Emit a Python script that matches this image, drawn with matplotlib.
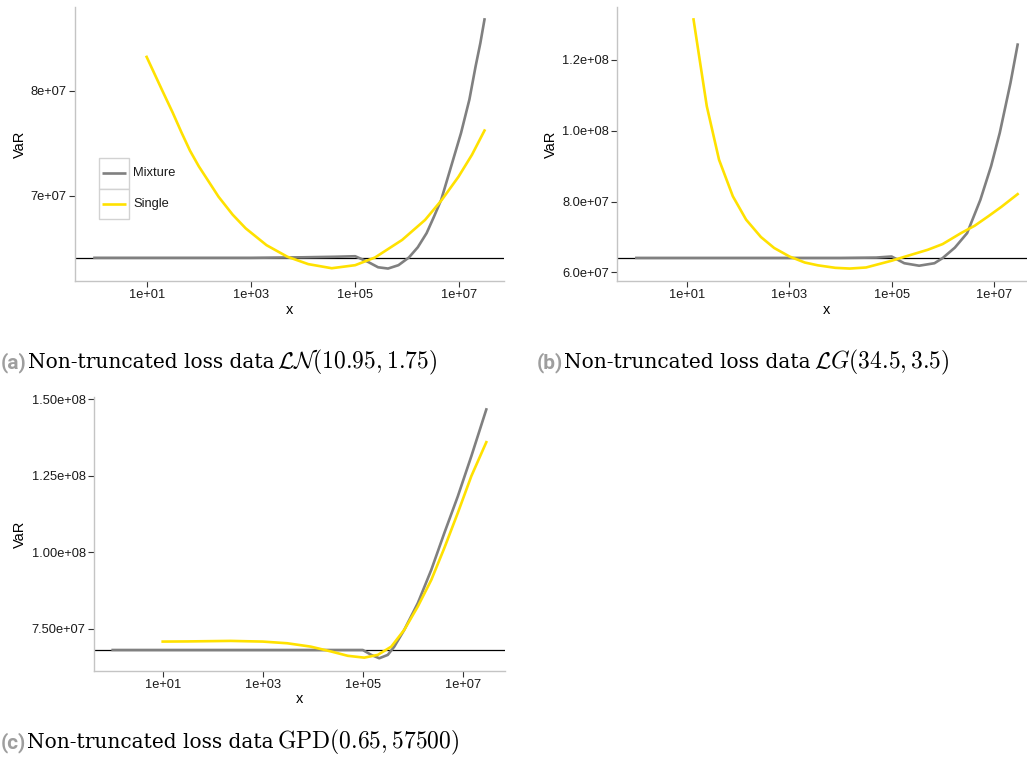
import numpy as np
import matplotlib
matplotlib.use("Agg")
import matplotlib.pyplot as plt
from matplotlib.patches import Rectangle

plt.rcParams['font.family'] = ['Liberation Sans', 'DejaVu Sans']
plt.rcParams['mathtext.fontset'] = 'cm'

# --- data (x given as log10 of x) ---
# (a) lognormal
A_MIX_LOG10X = [0, 1, 2, 3, 4, 4.6, 5.0, 5.25, 5.44, 5.63, 5.83, 6.03, 6.2, 6.37, 6.51,
                6.65, 6.84, 7.03, 7.19, 7.31, 7.40, 7.48]
A_MIX_VAR = [6.41e7, 6.41e7, 6.41e7, 6.41e7, 6.415e7, 6.42e7, 6.425e7, 6.37e7, 6.32e7,
             6.308e7, 6.34e7, 6.413e7, 6.51e7, 6.645e7, 6.80e7, 6.962e7, 7.279e7,
             7.597e7, 7.914e7, 8.232e7, 8.45e7, 8.676e7]
A_SIN_LOG10X = [1.0, 1.15, 1.3, 1.5, 1.67, 1.83, 2.0, 2.38, 2.65, 2.9, 3.3, 3.7, 4.1,
                4.55, 5.0, 5.38, 5.9, 6.34, 6.66, 6.98, 7.24, 7.48]
A_SIN_VAR = [8.32e7, 8.16e7, 8.00e7, 7.79e7, 7.60e7, 7.43e7, 7.28e7, 6.99e7, 6.82e7,
             6.69e7, 6.53e7, 6.42e7, 6.35e7, 6.311e7, 6.34e7, 6.413e7, 6.58e7, 6.77e7,
             6.96e7, 7.18e7, 7.39e7, 7.62e7]
A_HLINE = 6.41e7

# (b) loggamma
B_MIX_LOG10X = [0, 1, 2, 3, 4, 4.7, 5.0, 5.25, 5.54, 5.84, 6.0, 6.24, 6.48, 6.74, 6.95,
                7.12, 7.33, 7.47]
B_MIX_VAR = [6.41e7, 6.41e7, 6.41e7, 6.41e7, 6.41e7, 6.42e7, 6.45e7, 6.26e7, 6.19e7,
             6.26e7, 6.405e7, 6.70e7, 7.11e7, 8.05e7, 9.0e7, 9.94e7, 1.135e8, 1.243e8]
B_SIN_LOG10X = [1.12, 1.23, 1.38, 1.62, 1.89, 2.15, 2.44, 2.70, 3.0, 3.30, 3.56, 3.9,
                4.18, 4.5, 5.0, 5.18, 5.71, 6.0, 6.36, 6.63, 6.89, 7.15, 7.47]
B_SIN_VAR = [1.314e8, 1.210e8, 1.069e8, 9.18e7, 8.15e7, 7.49e7, 7.00e7, 6.69e7, 6.45e7,
             6.28e7, 6.20e7, 6.13e7, 6.11e7, 6.14e7, 6.33e7, 6.41e7, 6.64e7, 6.80e7,
             7.11e7, 7.32e7, 7.58e7, 7.85e7, 8.21e7]
B_HLINE = 6.41e7

# (c) GPD
C_MIX_LOG10X = [0, 1, 2, 3, 4, 4.5, 5.0, 5.17, 5.33, 5.5, 5.63, 5.83, 6.1, 6.37, 6.63,
                6.9, 7.17, 7.47]
C_MIX_VAR = [6.81e7, 6.81e7, 6.81e7, 6.81e7, 6.81e7, 6.81e7, 6.81e7, 6.65e7, 6.54e7,
             6.65e7, 6.92e7, 7.47e7, 8.34e7, 9.43e7, 1.063e8, 1.183e8, 1.314e8, 1.467e8]
C_SIN_LOG10X = [1, 1.5, 2, 2.36, 2.7, 3, 3.49, 3.96, 4.37, 4.7, 5.03, 5.3, 5.57, 5.83,
                6.1, 6.37, 6.63, 6.9, 7.17, 7.47]
C_SIN_VAR = [7.085e7, 7.09e7, 7.10e7, 7.107e7, 7.095e7, 7.085e7, 7.03e7, 6.92e7, 6.76e7,
             6.62e7, 6.56e7, 6.65e7, 6.92e7, 7.47e7, 8.23e7, 9.10e7, 1.014e8, 1.129e8,
             1.249e8, 1.360e8]
C_HLINE = 6.81e7

X_TICKS = [1e1, 1e3, 1e5, 1e7]
X_TICK_LABELS = ['1e+01', '1e+03', '1e+05', '1e+07']
A_YTICKS = [7e7, 8e7]
A_YLABELS = ['7e+07', '8e+07']
B_YTICKS = [6e7, 8e7, 1e8, 1.2e8]
B_YLABELS = ['6.0e+07', '8.0e+07', '1.0e+08', '1.2e+08']
C_YTICKS = [7.5e7, 1e8, 1.25e8, 1.5e8]
C_YLABELS = ['7.50e+07', '1.00e+08', '1.25e+08', '1.50e+08']

SERIES = ['Mixture', 'Single']
GREY = '#808080'
YELLOW = '#FFE100'

W, H = 1027, 767


def draw_panel(ax, mix_lx, mix_v, sin_lx, sin_v, hline, yticks, ylabels):
    mix_lx = np.asarray(mix_lx)
    sin_lx = np.asarray(sin_lx)
    ax.axhline(hline, color='black', lw=0.9, zorder=1)
    ax.plot(10 ** mix_lx, mix_v, color=GREY, lw=1.9, zorder=2)
    ax.plot(10 ** sin_lx, sin_v, color=YELLOW, lw=1.9, zorder=3)
    ax.set_xscale('log')

    # ggplot style 5% expansion
    lo = min(mix_lx.min(), sin_lx.min())
    hi = max(mix_lx.max(), sin_lx.max())
    pad = 0.05 * (hi - lo)
    ax.set_xlim(10 ** (lo - pad), 10 ** (hi + pad))
    vals = np.concatenate([mix_v, sin_v, [hline]])
    vpad = 0.05 * (vals.max() - vals.min())
    ax.set_ylim(vals.min() - vpad, vals.max() + vpad)

    ax.set_xticks(X_TICKS)
    ax.set_xticklabels(X_TICK_LABELS)
    ax.minorticks_off()
    ax.set_yticks(yticks)
    ax.set_yticklabels(ylabels)

    for s in ['top', 'right']:
        ax.spines[s].set_visible(False)
    for s in ['left', 'bottom']:
        ax.spines[s].set_color('#C4C4C4')
        ax.spines[s].set_linewidth(1.0)
    ax.tick_params(length=4, width=0.8, color='#333333', labelsize=9.3,
                   labelcolor='#1a1a1a', pad=2)
    ax.set_xlabel('x', fontsize=10.5, labelpad=1)
    ax.set_ylabel('VaR', fontsize=10.5, labelpad=3)


fig = plt.figure(figsize=(W / 100, H / 100), dpi=100)

ax_a = fig.add_axes([75 / W, 1 - 281 / H, 429 / W, 274 / H])
ax_b = fig.add_axes([617.3 / W, 1 - 281 / H, 419.4 / W, 274 / H])
ax_c = fig.add_axes([94 / W, 1 - 670.7 / H, 411 / W, 273.7 / H])

draw_panel(ax_a, A_MIX_LOG10X, A_MIX_VAR, A_SIN_LOG10X, A_SIN_VAR, A_HLINE,
           A_YTICKS, A_YLABELS)
draw_panel(ax_b, B_MIX_LOG10X, B_MIX_VAR, B_SIN_LOG10X, B_SIN_VAR, B_HLINE,
           B_YTICKS, B_YLABELS)
draw_panel(ax_c, C_MIX_LOG10X, C_MIX_VAR, C_SIN_LOG10X, C_SIN_VAR, C_HLINE,
           C_YTICKS, C_YLABELS)

# legend drawn ggplot-like inside panel (a): boxed keys, no title
key_x0, key_x1 = 0.0552, 0.1266
key_rows = [(0.336, 0.449), (0.226, 0.336)]
for name, col, (y0, y1) in zip(SERIES, [GREY, YELLOW], key_rows):
    ax_a.add_patch(Rectangle((key_x0, y0), key_x1 - key_x0, y1 - y0,
                             transform=ax_a.transAxes, facecolor='white',
                             edgecolor='#D2D2D2', lw=1.0, zorder=4))
    yc = (y0 + y1) / 2
    ax_a.plot([0.0622, 0.1189], [yc, yc], transform=ax_a.transAxes,
              color=col, lw=1.9, zorder=5, solid_capstyle='butt')
    ax_a.text(0.1352, yc, name, transform=ax_a.transAxes, fontsize=9.3,
              va='center', ha='left', color='#1a1a1a', zorder=5)

# sub-captions: grey tag, serif text, then the math part
fig.canvas.draw()
renderer = fig.canvas.get_renderer()


def caption(px, py, tag, body, math):
    y = 1 - py / H
    t = fig.text(px / W, y, tag, family=['Roboto', 'DejaVu Sans'],
                 weight='bold', color='#9E9E9E', fontsize=15, va='baseline')
    x = t.get_window_extent(renderer).x1 / fig.bbox.width + 0.001
    t = fig.text(x, y, body, family=['DejaVu Serif'], fontsize=14.5,
                 va='baseline', color='black')
    x = t.get_window_extent(renderer).x1 / fig.bbox.width + 0.003
    fig.text(x, y, math, fontsize=17, va='baseline', color='black')


caption(1, 368, '(a)', 'Non-truncated loss data', r'$\mathcal{LN}(10.95, 1.75)$')
caption(537, 368, '(b)', 'Non-truncated loss data', r'$\mathcal{L}G(34.5, 3.5)$')
caption(1, 748, '(c)', 'Non-truncated loss data', r'$\mathrm{GPD}(0.65, 57500)$')

fig.savefig('out.png', dpi=100)
